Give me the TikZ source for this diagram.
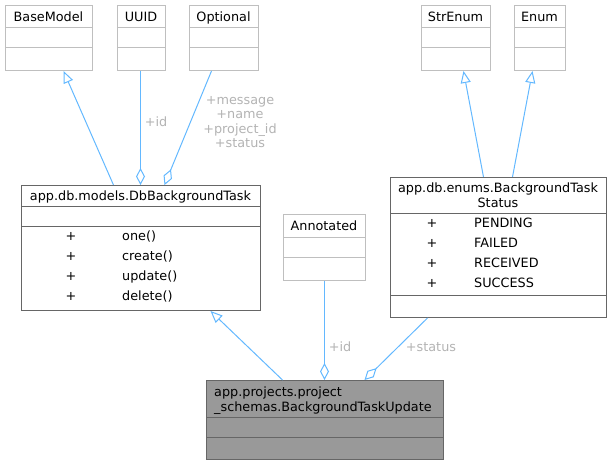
\documentclass[tikz,border=0pt]{standalone}
\usepackage{fontspec}
\setmainfont{DejaVu Sans}
\usetikzlibrary{arrows.meta}
\definecolor{edgeblue}{HTML}{63B8FF}
\definecolor{extgray}{HTML}{BFBFBF}
\definecolor{maingray}{HTML}{666666}
\definecolor{labelgray}{HTML}{B3B3B3}
\definecolor{focusfill}{HTML}{999999}
\begin{document}
\begin{tikzpicture}[x=1pt,y=-1pt,
  every node/.style={font=\fontsize{12.8}{15}\selectfont, inner sep=0pt},
  extbox/.style={draw=extgray, line width=1pt, fill=white, rectangle, anchor=north west},
  mainbox/.style={draw=maingray, line width=1pt, fill=white, rectangle, anchor=north west},
  extline/.style={draw=extgray, line width=1pt},
  mainline/.style={draw=maingray, line width=1pt},
  txt/.style={text=black, anchor=base},
  txtl/.style={text=black, anchor=base west},
  elabel/.style={text=labelgray, anchor=base},
  inherit/.style={draw=edgeblue, line width=1pt, -{Triangle[open, length=12pt, width=10pt]}},
  usage/.style={draw=edgeblue, line width=1pt, -{Diamond[open, length=17pt, width=9pt]}}
]
\useasboundingbox (0,0) rectangle (611,465);

% ---- external classes (top row) ----
\node[extbox, minimum width=87pt, minimum height=65pt] (basemodel) at (5,5) {};
\node[txt] (basemodel-t) at (48.5,22) {BaseModel};
\draw[extline] (5,28) -- (92,28) (5,48) -- (92,48);

\node[extbox, minimum width=48pt, minimum height=65pt] (uuid) at (117,5) {};
\node[txt] (uuid-t) at (141,22) {UUID};
\draw[extline] (117,28) -- (165,28) (117,48) -- (165,48);

\node[extbox, minimum width=69pt, minimum height=65pt] (optional) at (189,5) {};
\node[txt] (optional-t) at (223.5,22) {Optional};
\draw[extline] (189,28) -- (258,28) (189,48) -- (258,48);

\node[extbox, minimum width=69pt, minimum height=65pt] (strenum) at (421,5) {};
\node[txt] (strenum-t) at (455.5,22) {StrEnum};
\draw[extline] (421,28) -- (490,28) (421,48) -- (490,48);

\node[extbox, minimum width=51pt, minimum height=65pt] (enum) at (514,5) {};
\node[txt] (enum-t) at (539.5,22) {Enum};
\draw[extline] (514,28) -- (565,28) (514,48) -- (565,48);

% ---- app.db.models.DbBackgroundTask ----
\node[mainbox, minimum width=239pt, minimum height=125pt] (dbtask) at (21,185) {};
\node[txt] (dbtask-t) at (140.5,201) {app.db.models.DbBackgroundTask};
\draw[mainline] (21,207) -- (260,207) (21,227) -- (260,227);
\foreach \n/\y in {one()/241, create()/261, update()/281, delete()/301} {
  \node[txt] at (71,\y) {+};
  \node[txtl] at (122,\y) {\n};
}

% ---- Annotated ----
\node[extbox, minimum width=82pt, minimum height=66pt] (annotated) at (283,214) {};
\node[txt] (annotated-t) at (324,231) {Annotated};
\draw[extline] (283,238) -- (365,238) (283,258) -- (365,258);

% ---- app.db.enums.BackgroundTaskStatus ----
\node[mainbox, minimum width=216pt, minimum height=140pt] (status) at (390,177) {};
\node[txt] (status-t1) at (498,193) {app.db.enums.BackgroundTask};
\node[txt] (status-t2) at (498,208) {Status};
\draw[mainline] (390,214) -- (606,214) (390,296) -- (606,296);
\foreach \n/\y in {PENDING/228, FAILED/248, RECEIVED/268, SUCCESS/288} {
  \node[txt] at (432,\y) {+};
  \node[txtl] at (474,\y) {\n};
}

% ---- app.projects.project_schemas.BackgroundTaskUpdate ----
\node[mainbox, fill=focusfill, minimum width=237pt, minimum height=79pt] (update) at (206,380) {};
\node[txtl] (update-t1) at (214,396) {app.projects.project};
\node[txtl] (update-t2) at (214,411) {\_schemas.BackgroundTaskUpdate};
\draw[mainline] (206,417) -- (443,417) (206,437) -- (443,437);

% ---- connectors ----
\draw[inherit] ([xshift=-27.5pt]dbtask.north) -- ([xshift=14.5pt]basemodel.south);
\draw[usage] ([xshift=-1pt]uuid.south) -- ([xshift=-0.5pt]dbtask.north);
\draw[usage] ([xshift=-12.5pt]optional.south) -- ([xshift=23.5pt]dbtask.north);
\draw[inherit] ([xshift=-15pt]status.north) -- ([xshift=7.5pt]strenum.south);
\draw[inherit] ([xshift=14pt]status.north) -- ([xshift=-7.5pt]enum.south);
\draw[inherit] ([xshift=-42.5pt]update.north) -- ([xshift=69.5pt]dbtask.south);
\draw[usage] (annotated.south) -- ([xshift=-0.5pt]update.north);
\draw[usage] ([xshift=-71pt]status.south) -- ([xshift=39.5pt]update.north);

% ---- connector labels ----
\node[elabel] (lbl-id1) at (156,127) {+id};
\node[elabel] (lbl-opt1) at (240,105) {+message};
\node[elabel] (lbl-opt2) at (240,119) {+name};
\node[elabel] (lbl-opt3) at (240,134) {+project\_id};
\node[elabel] (lbl-opt4) at (240,148) {+status};
\node[elabel] (lbl-id2) at (340,352) {+id};
\node[elabel] (lbl-status) at (431,352) {+status};
\end{tikzpicture}
\end{document}
